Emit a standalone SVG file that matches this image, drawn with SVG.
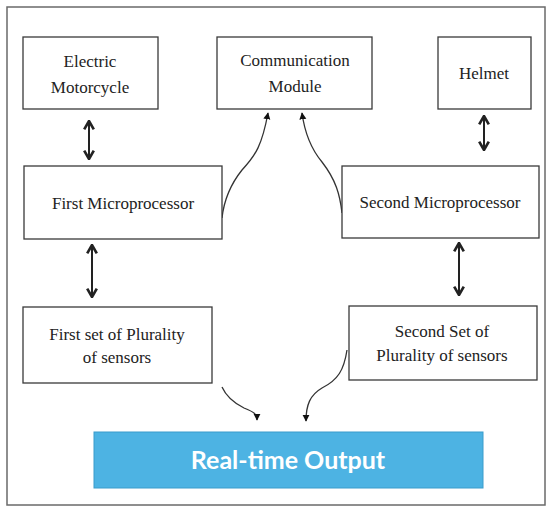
<svg xmlns="http://www.w3.org/2000/svg" width="552" height="510" viewBox="0 0 552 510">
<style>
.box{fill:#fff;stroke:#3a3a3a;stroke-width:1.3}
.t{font-family:'Liberation Serif','DejaVu Serif',serif;font-size:17px;fill:#222;text-anchor:middle}
.dbl{fill:none;stroke:#222;stroke-width:2}
.cv{fill:none;stroke:#333;stroke-width:1.3}
.out{fill:#4db3e3;stroke:#3b9ccb;stroke-width:1}
.ot{font-family:Lato,'Open Sans',sans-serif;font-weight:bold;font-size:25px;fill:#fff;text-anchor:middle}
</style>
<defs>
<marker id="tri" viewBox="0 0 10 10" refX="9" refY="5" markerWidth="7" markerHeight="8" markerUnits="userSpaceOnUse" orient="auto"><path d="M0,0 L10,5 L0,10 Z" fill="#111"/></marker>
<marker id="chev" viewBox="0 0 10 10" refX="9" refY="5" markerWidth="12" markerHeight="12" markerUnits="userSpaceOnUse" orient="auto-start-reverse"><path d="M2,1 L9,5 L2,9" fill="none" stroke="#222" stroke-width="2.2"/></marker>
</defs>
<rect width="552" height="510" fill="#fff"/>
<rect x="7" y="7" width="538" height="498" fill="none" stroke="#6a6a6a" stroke-width="1.5"/>
<g id="connectors">
<line class="dbl" x1="89" y1="121" x2="89" y2="159" marker-start="url(#chev)" marker-end="url(#chev)"/>
<line class="dbl" x1="484" y1="116" x2="484" y2="150" marker-start="url(#chev)" marker-end="url(#chev)"/>
<line class="dbl" x1="92" y1="245" x2="92" y2="297" marker-start="url(#chev)" marker-end="url(#chev)"/>
<line class="dbl" x1="459" y1="243" x2="459" y2="295" marker-start="url(#chev)" marker-end="url(#chev)"/>
<path class="cv" d="M222,218 C224,200 230,185 242,170 C256,155 262,145 268,113" marker-end="url(#tri)"/>
<path class="cv" d="M342,213 C340,195 336,180 322,162 C312,150 305,135 302,113" marker-end="url(#tri)"/>
<path class="cv" d="M222,387 C226,396 232,402 244,408 C254,412 257,414 257,420" marker-end="url(#tri)"/>
<path class="cv" d="M347,350 C344,370 338,380 322,388 C310,395 306,405 306,421" marker-end="url(#tri)"/>
</g>
<g id="electric-motorcycle">
<rect class="box" x="23" y="37" width="135" height="72"/>
<text class="t" x="90" y="67" font-family="Liberation Serif, serif">Electric</text>
<text class="t" x="90" y="93" font-family="Liberation Serif, serif">Motorcycle</text>
</g>
<g id="communication-module">
<rect class="box" x="217" y="37" width="155" height="72"/>
<text class="t" x="295" y="66">Communication</text>
<text class="t" x="295" y="92">Module</text>
</g>
<g id="helmet">
<rect class="box" x="438" y="37" width="93" height="72"/>
<text class="t" x="484" y="79">Helmet</text>
</g>
<g id="first-microprocessor">
<rect class="box" x="24" y="166" width="198" height="73"/>
<text class="t" x="123" y="209">First Microprocessor</text>
</g>
<g id="second-microprocessor">
<rect class="box" x="342" y="166" width="197" height="72"/>
<text class="t" x="440" y="208">Second Microprocessor</text>
</g>
<g id="first-sensors">
<rect class="box" x="23" y="307" width="189" height="76"/>
<text class="t" x="117" y="340">First set of  Plurality</text>
<text class="t" x="117" y="363">of sensors</text>
</g>
<g id="second-sensors">
<rect class="box" x="349" y="306" width="188" height="74"/>
<text class="t" x="442" y="337">Second Set of</text>
<text class="t" x="442" y="361">Plurality of sensors</text>
</g>
<g id="real-time-output">
<rect class="out" x="94" y="432" width="389" height="56"/>
<text class="ot" x="288" y="469">Real-time Output</text>
</g>
</svg>
